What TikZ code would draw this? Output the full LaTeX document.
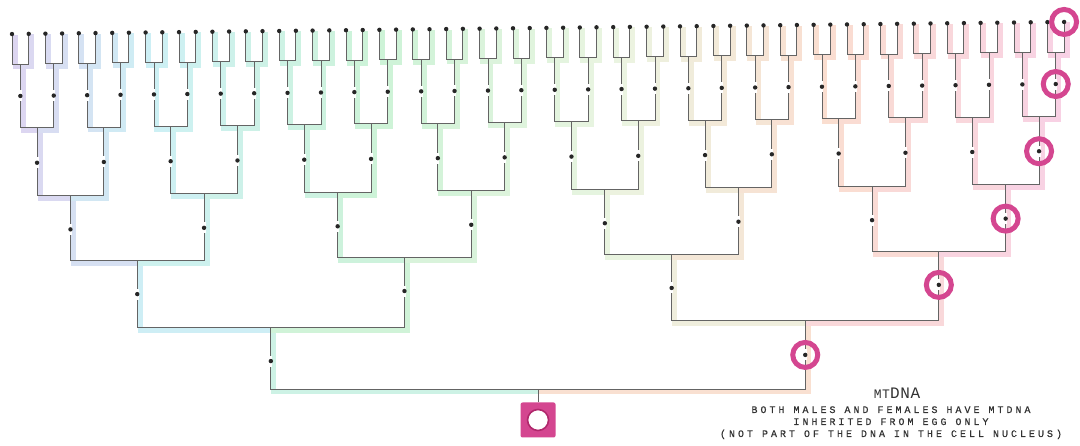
\documentclass[tikz,border=0pt]{standalone}
\usepackage{fontspec}
\usetikzlibrary{calc}
\newfontfamily\labfont[LetterSpace=30,FakeBold=0.6]{Liberation Mono}
\newfontfamily\ttlfont[LetterSpace=4]{Liberation Mono}
\definecolor{cA}{RGB}{222,210,240}
\definecolor{cB}{RGB}{205,240,245}
\definecolor{cC}{RGB}{205,243,215}
\definecolor{cD}{RGB}{235,244,225}
\definecolor{cE}{RGB}{250,222,208}
\definecolor{cF}{RGB}{248,208,230}
\definecolor{ringc}{RGB}{212,70,144}
\definecolor{ringd}{RGB}{176,40,108}
\definecolor{lnc}{RGB}{100,100,100}
\definecolor{txtc}{RGB}{50,50,50}
\newcommand\shcol[1]{%
 \pgfmathsetmacro\shx{#1}%
 \ifdim\shx pt<150pt
   \pgfmathtruncatemacro\shp{(150-\shx)/150*100}\colorlet{sh}{cA!\shp!cB}%
 \else\ifdim\shx pt<380pt
   \pgfmathtruncatemacro\shp{(380-\shx)/230*100}\colorlet{sh}{cB!\shp!cC}%
 \else\ifdim\shx pt<620pt
   \pgfmathtruncatemacro\shp{(620-\shx)/240*100}\colorlet{sh}{cC!\shp!cD}%
 \else\ifdim\shx pt<820pt
   \pgfmathtruncatemacro\shp{(820-\shx)/200*100}\colorlet{sh}{cD!\shp!cE}%
 \else
   \pgfmathtruncatemacro\shp{max(0,(1080-\shx)/260*100)}\colorlet{sh}{cE!\shp!cF}%
 \fi\fi\fi\fi}
\tikzset{
 shadowline/.style={line width=5pt, line join=miter, line cap=rect},
 treeline/.style={draw=lnc, line width=0.9pt},
 nodedot/.style={circle, fill=black!85, inner sep=0pt, minimum size=4.4pt},
 gapbox/.style={fill=white, inner sep=0pt, minimum width=3pt, minimum height=11pt},
 ring/.style={draw=ringc, line width=5pt},
 rootsq/.style={fill=ringc, rounded corners=2pt, minimum size=35pt, inner sep=0pt},
 lab/.style={text=txtc, font=\labfont\fontsize{10}{12}\selectfont, inner sep=0pt, anchor=base},
}
\begin{document}
\begin{tikzpicture}[x=1pt,y=-1pt]
\useasboundingbox (0,0) rectangle (1080,446);
\fill[white] (0,0) rectangle (1080,446);
\def\YD{{420,358,289.5,224,157,90,28}}
\def\YB{{389,324,256,190,122,58}}
% coordinates of all nodes and bars
\foreach \g in {0,...,6}{
 \pgfmathtruncatemacro\nn{2^\g-1}
 \foreach \j in {0,...,\nn}{
  \pgfmathsetmacro\nx{12+16.7*((\j+0.5)*64/(2^\g)-0.5)}
  \pgfmathsetmacro\ny{\YD[\g]-0.0115*(\nx-538)}
  \coordinate (n\g-\j) at (\nx,\ny);
  \ifnum\g<6
   \pgfmathsetmacro\by{\YB[\g]-0.0115*(\nx-538)}
   \coordinate (b\g-\j) at (\nx,\by);
  \fi
 }}
% coloured shadows
\foreach \g in {0,...,5}{
 \pgfmathtruncatemacro\nn{2^\g-1}
 \pgfmathtruncatemacro\gg{\g+1}
 \foreach \j in {0,...,\nn}{
  \pgfmathtruncatemacro\ca{2*\j}
  \pgfmathtruncatemacro\cb{2*\j+1}
  \pgfmathsetmacro\px{12+16.7*((\j+0.5)*64/(2^\g)-0.5)}
  \pgfmathsetmacro\xa{12+16.7*((\ca+0.5)*64/(2^\gg)-0.5)}
  \pgfmathsetmacro\xb{12+16.7*((\cb+0.5)*64/(2^\gg)-0.5)}
  \ifnum\g>0
   \shcol{\px}
   \draw[shadowline, draw=sh] ($(n\g-\j)+(3,3)$) -- ($(b\g-\j)+(3,3)$);
  \fi
  \shcol{\xa}
  \draw[shadowline, draw=sh] ($(b\g-\j)+(3,3)$) -- ($(n\gg-\ca |- b\g-\j)+(3,3)$) -- ($(n\gg-\ca)+(3,3)$);
  \shcol{\xb}
  \draw[shadowline, draw=sh] ($(b\g-\j)+(3,3)$) -- ($(n\gg-\cb |- b\g-\j)+(3,3)$) -- ($(n\gg-\cb)+(3,3)$);
 }}
% tree lines
\foreach \g in {0,...,5}{
 \pgfmathtruncatemacro\nn{2^\g-1}
 \pgfmathtruncatemacro\gg{\g+1}
 \foreach \j in {0,...,\nn}{
  \pgfmathtruncatemacro\ca{2*\j}
  \pgfmathtruncatemacro\cb{2*\j+1}
  \ifnum\g>0 \draw[treeline] (n\g-\j) -- (b\g-\j); \fi
  \draw[treeline] (n\gg-\ca) -- (n\gg-\ca |- b\g-\j) -- (n\gg-\cb |- b\g-\j) -- (n\gg-\cb);
 }}
% dots
\foreach \g in {1,...,6}{
 \pgfmathtruncatemacro\nn{2^\g-1}
 \foreach \j in {0,...,\nn}{
  \ifnum\g<6 \node[gapbox] at (n\g-\j) {}; \fi
  \node[nodedot] (d\g-\j) at (n\g-\j) {};
 }}
% root
\node[rootsq] (root) at (n0-0) {};
\draw[treeline] (root.north) -- (b0-0);
\draw[ringd, line width=1.6pt, fill=white] (root.center) circle (10.5pt);
% maternal line rings
\foreach \r in {n6-63,n5-31,n4-15,n3-7,n2-3,n1-1}{
 \draw[ring] (\r) circle (12.5pt);
}
% text
\node[text=txtc, inner sep=0pt, anchor=base] (ttl) at (897,399) {\ttlfont\fontsize{13}{13}\selectfont MT\fontsize{16}{16}\selectfont DNA};
\node[lab] (l1) at (891,413) {BOTH MALES AND FEMALES HAVE MTDNA};
\node[lab] (l2) at (891,425) {INHERITED FROM EGG ONLY};
\node[lab] (l3) at (891,437) {(NOT PART OF THE DNA IN THE CELL NUCLEUS)};
\end{tikzpicture}
\end{document}
